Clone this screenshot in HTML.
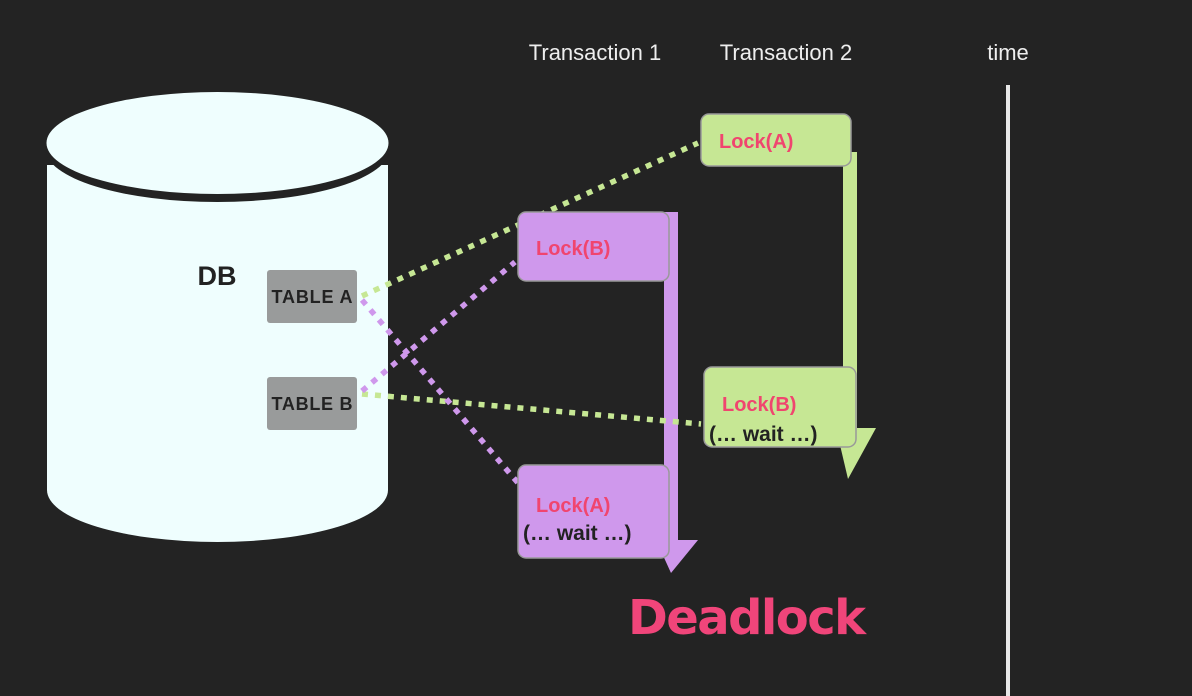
<!DOCTYPE html>
<html><head><meta charset="utf-8"><style>
html,body{margin:0;padding:0;background:#232323;}
svg{display:block;}
</style></head><body>
<svg width="1192" height="696" viewBox="0 0 1192 696" xmlns="http://www.w3.org/2000/svg" font-family="Liberation Sans, sans-serif">
<rect width="1192" height="696" fill="#232323"/>
<!-- headers -->
<text x="595" y="60" fill="#eeeeee" font-size="22" text-anchor="middle">Transaction 1</text>
<text x="786" y="60" fill="#eeeeee" font-size="22" text-anchor="middle">Transaction 2</text>
<text x="1008" y="60" fill="#eeeeee" font-size="22" text-anchor="middle">time</text>
<rect x="1006" y="85" width="4" height="611" fill="#e8e8e8"/>
<!-- cylinder -->
<rect x="47" y="165" width="341" height="325" fill="#effefe"/>
<ellipse cx="217.5" cy="490" rx="170.5" ry="52" fill="#effefe"/>
<ellipse cx="217.5" cy="149" rx="172" ry="53" fill="#232323"/>
<ellipse cx="217.5" cy="143" rx="171" ry="51" fill="#effefe"/>
<text x="217" y="285" fill="#222" font-size="27" font-weight="bold" text-anchor="middle">DB</text>
<rect x="267" y="270" width="90" height="53" rx="3" fill="#999b9b"/>
<text x="312" y="303" fill="#222" font-size="18" font-weight="bold" text-anchor="middle" textLength="81">TABLE A</text>
<rect x="267" y="377" width="90" height="53" rx="3" fill="#999b9b"/>
<text x="312" y="410" fill="#222" font-size="18" font-weight="bold" text-anchor="middle" textLength="81">TABLE B</text>
<!-- arrows -->
<rect x="843" y="152" width="14" height="278" fill="#c6e794"/>
<polygon points="836,428 876,428 848,479" fill="#c6e794"/>
<rect x="664" y="212" width="14" height="330" fill="#cf98ec"/>
<polygon points="656,540 698,540 671,573" fill="#cf98ec"/>
<!-- dotted lines -->
<g stroke-width="5.5" stroke-dasharray="6 7" fill="none">
<line x1="362" y1="296" x2="698" y2="143" stroke="#c6e794"/>
<line x1="362" y1="394" x2="701" y2="424" stroke="#c6e794"/>
<line x1="362" y1="300" x2="518" y2="483" stroke="#cf98ec"/>
<line x1="362" y1="391" x2="515" y2="262" stroke="#cf98ec"/>
</g>
<!-- boxes -->
<g stroke="#999" stroke-width="1.5">
<rect x="701" y="114" width="150" height="52" rx="8" fill="#c6e794"/>
<rect x="518" y="212" width="151" height="69" rx="8" fill="#cf98ec"/>
<rect x="704" y="367" width="152" height="80" rx="8" fill="#c6e794"/>
<rect x="518" y="465" width="151" height="93" rx="8" fill="#cf98ec"/>
</g>
<g font-size="20" fill="#f0456f" font-weight="bold">
<text x="719" y="148">Lock(A)</text>
<text x="536" y="255">Lock(B)</text>
<text x="722" y="411">Lock(B)</text>
<text x="536" y="512">Lock(A)</text>
</g>
<g font-size="21" fill="#222" font-weight="bold">
<text x="709" y="441">(… wait …)</text>
<text x="523" y="540">(… wait …)</text>
</g>
<text x="628" y="634" fill="#f0457a" font-size="48" font-weight="bold" font-family="DejaVu Sans, sans-serif" textLength="238">Deadlock</text>
</svg>
</body></html>
